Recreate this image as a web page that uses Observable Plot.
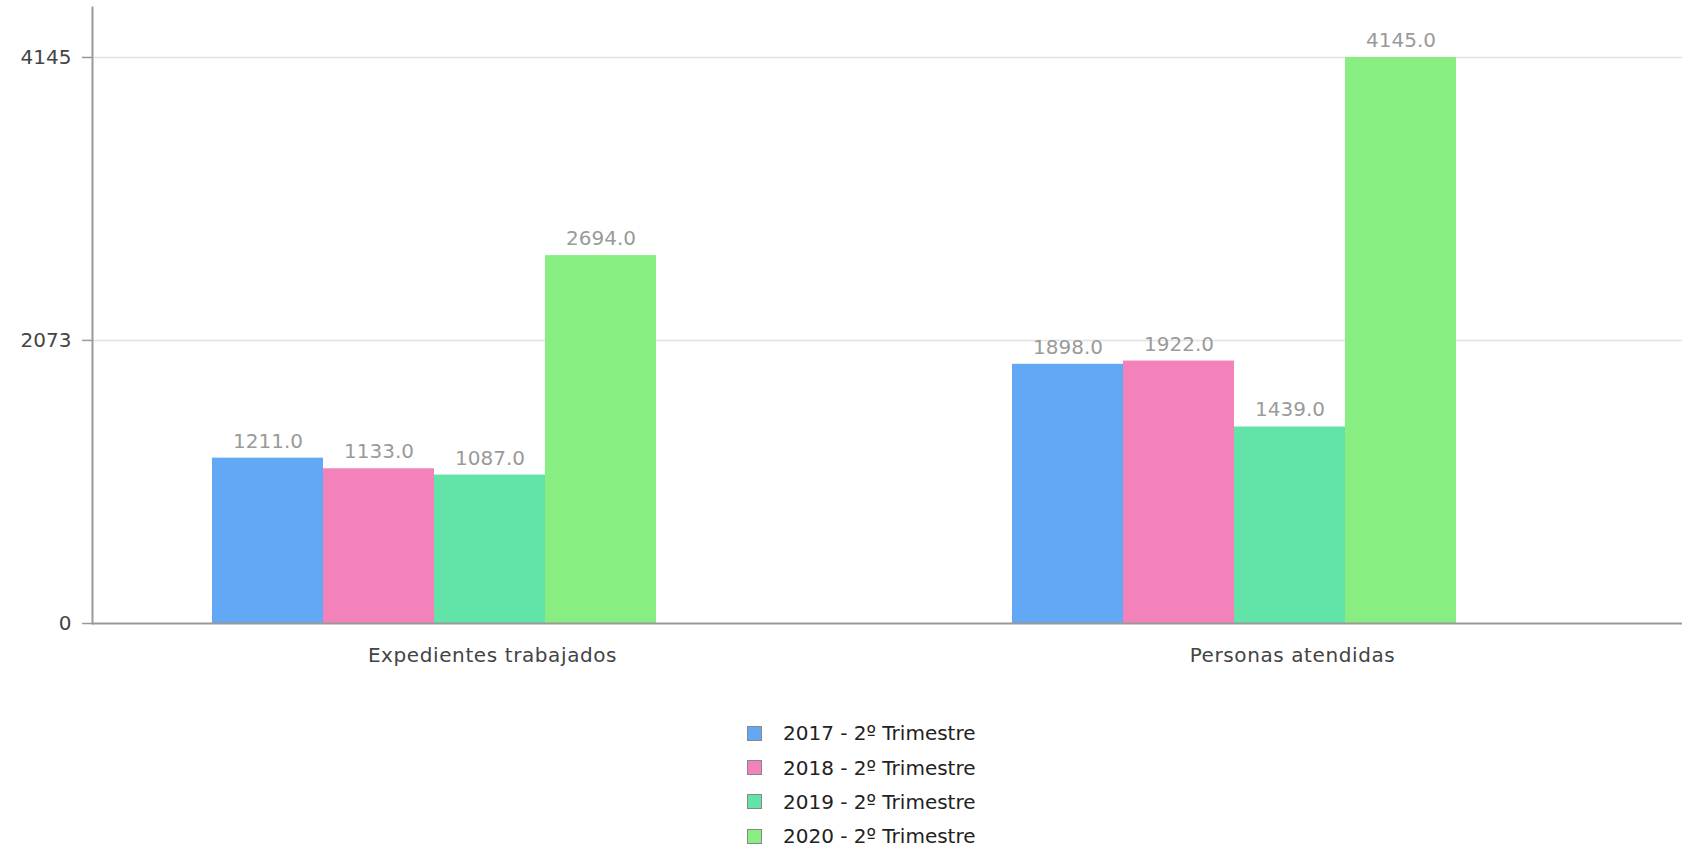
<!DOCTYPE html>
<html><head><meta charset="utf-8">
<script src="https://cdn.jsdelivr.net/npm/d3@7"></script>
<script src="https://cdn.jsdelivr.net/npm/@observablehq/plot@0.6"></script>
<style>
html,body{margin:0;padding:0;background:#fff;overflow:hidden;}
#chart svg{display:block;max-width:none;}
#chart svg g[aria-label="fx-axis tick label"] text{letter-spacing:0.6px;}
.legend{padding-left:747px;font-family:"DejaVu Sans";font-size:20px;color:#222;margin-top:-1px;}
.row{height:34.4px;display:flex;align-items:center;}
.sw{width:13px;height:13px;border:1.5px solid #888;margin-right:21px;box-sizing:content-box;}
</style></head><body><div id="chart"></div><div class="legend" id="legend"></div>
<script>
const categories = ["Expedientes trabajados", "Personas atendidas"];
const series = ["2017 - 2º Trimestre", "2018 - 2º Trimestre", "2019 - 2º Trimestre", "2020 - 2º Trimestre"];
const expedientes = [1211, 1133, 1087, 2694];
const personas = [1898, 1922, 1439, 4145];
const yTicks = [0, 2073, 4145];
const colors = ["#62a8f4", "#f282b9", "#62e4a9", "#88ee82"];

const valuesByCat = [expedientes, personas];
const data = [];
categories.forEach((c, i) => series.forEach((s, j) => data.push({category: c, series: s, value: valuesByCat[i][j]})));

const chart = Plot.plot({
  width: 1692, height: 717,
  marginLeft: 92, marginRight: 0, marginTop: 7, marginBottom: 94,
  style: {fontFamily: "DejaVu Sans", fontSize: "20px", background: "white", maxWidth: "none", overflow: "visible"},
  fx: {domain: categories, padding: 0, label: null},
  x: {type: "band", domain: series, paddingInner: 0, paddingOuter: 1.579, align: 0.336, axis: null},
  y: {domain: [0, 4511], axis: null},
  color: {domain: series, range: colors},
  marks: [
    Plot.gridY(yTicks.slice(1), {stroke: "#e3e3e3", strokeOpacity: 1, strokeWidth: 1.5}),
    Plot.barY(data, {fx: "category", x: "series", y: "value", fill: "series"}),
    Plot.text(data, {fx: "category", x: "series", y: "value", text: d => d.value.toFixed(1), lineAnchor: "bottom", dy: -10.5, fill: "#9a9a9a", fontSize: 20}),
    Plot.ruleY([0], {stroke: "#999", strokeWidth: 2}),
    Plot.frame({anchor: "left", facetAnchor: "left", stroke: "#999", strokeWidth: 2}),
    Plot.axisY(yTicks, {tickFormat: d3.format("d"), tickSize: 10, tickPadding: 11, stroke: "#999", strokeWidth: 1.5, fill: "#444", label: null, anchor: "left"}),
    Plot.axisFx({anchor: "bottom", tickSize: 0, tickPadding: 24, fill: "#444", label: null})
  ]
});
document.getElementById("chart").appendChild(chart);

const legend = document.getElementById("legend");
series.forEach((s, i) => {
  const row = document.createElement("div");
  row.className = "row";
  const sw = document.createElement("span");
  sw.className = "sw";
  sw.style.background = colors[i];
  const t = document.createElement("span");
  t.textContent = s;
  row.appendChild(sw); row.appendChild(t);
  legend.appendChild(row);
});
</script></body></html>
